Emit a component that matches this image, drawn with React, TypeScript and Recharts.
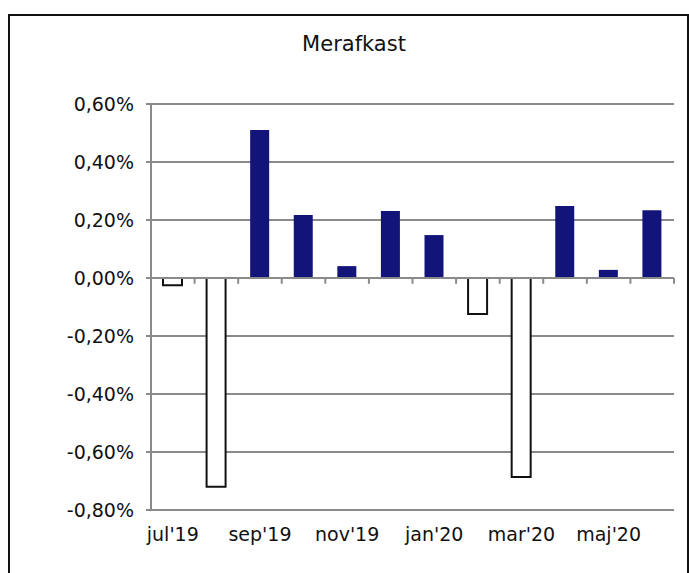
import React from "react";
import {
  BarChart,
  Bar,
  XAxis,
  YAxis,
  CartesianGrid,
  ReferenceLine,
  Cell,
} from "recharts";

const months = [
  "jul'19",
  "aug'19",
  "sep'19",
  "okt'19",
  "nov'19",
  "dec'19",
  "jan'20",
  "feb'20",
  "mar'20",
  "apr'20",
  "maj'20",
  "jun'20",
];

// monthly excess return, in percent
const merafkast = [
  -0.025, -0.72, 0.51, 0.217, 0.041, 0.231, 0.148, -0.124, -0.686, 0.248, 0.028,
  0.234,
];

const yTicks = [-0.8, -0.6, -0.4, -0.2, 0, 0.2, 0.4, 0.6];

const data = months.map((m, i) => ({ month: m, value: merafkast[i], idx: i }));
const boundaries = months.map((_, i) => i + 1);

const FONT = "'DejaVu Sans', Verdana, sans-serif";
const GREY = "#8a8a8a";
const NAVY = "#12147a";

const fmtPct = (v: number) => v.toFixed(2).replace(".", ",") + "%";

export default function App() {
  return (
    <div
      style={{
        position: "fixed",
        left: 0,
        top: 0,
        width: 689,
        height: 573,
        overflow: "hidden",
        background: "#fff",
        fontFamily: FONT,
      }}
    >
      <div
        style={{
          position: "absolute",
          left: 8,
          top: 14,
          width: 681,
          height: 600,
          border: "2px solid #111",
          boxSizing: "border-box",
        }}
      />
      <div
        style={{
          position: "absolute",
          left: 0,
          width: 708,
          top: 31,
          textAlign: "center",
          fontSize: 21,
          lineHeight: "26px",
          color: "#111",
        }}
      >
        Merafkast
      </div>
      <div style={{ position: "absolute", left: 0, top: 0 }}>
        <BarChart
          width={689}
          height={573}
          data={data}
          margin={{ top: 104, right: 15, bottom: 33, left: 0 }}
          barSize={19}
        >
          <CartesianGrid
            vertical={false}
            stroke={GREY}
            strokeWidth={2}
            horizontalValues={yTicks}
          />
          <XAxis
            dataKey="month"
            interval={1}
            height={30}
            axisLine={false}
            tickLine={false}
            tickSize={16}
            tick={{ fontSize: 19, fill: "#111", fontFamily: FONT }}
          />
          <XAxis
            xAxisId="edges"
            type="number"
            dataKey="idx"
            domain={[0, 12]}
            hide
          />
          <YAxis
            width={151}
            domain={[-0.8, 0.6]}
            ticks={yTicks}
            tickFormatter={fmtPct}
            axisLine={{ stroke: GREY, strokeWidth: 2 }}
            tickLine={{ stroke: GREY, strokeWidth: 2 }}
            tickSize={5}
            tickMargin={12}
            tick={{ fontSize: 19, fill: "#111", fontFamily: FONT }}
          />
          <Bar dataKey="value" isAnimationActive={false}>
            {data.map((d, i) => (
              <Cell
                key={i}
                fill={d.value >= 0 ? NAVY : "#ffffff"}
                stroke={d.value >= 0 ? "none" : "#111"}
                strokeWidth={d.value >= 0 ? 0 : 2}
              />
            ))}
          </Bar>
          <ReferenceLine y={0} stroke={GREY} strokeWidth={2} />
          {boundaries.map((b) => (
            <ReferenceLine
              key={b}
              xAxisId="edges"
              segment={[
                { x: b, y: 0 },
                { x: b, y: -0.02 },
              ]}
              stroke={GREY}
              strokeWidth={2}
            />
          ))}
        </BarChart>
      </div>
    </div>
  );
}
